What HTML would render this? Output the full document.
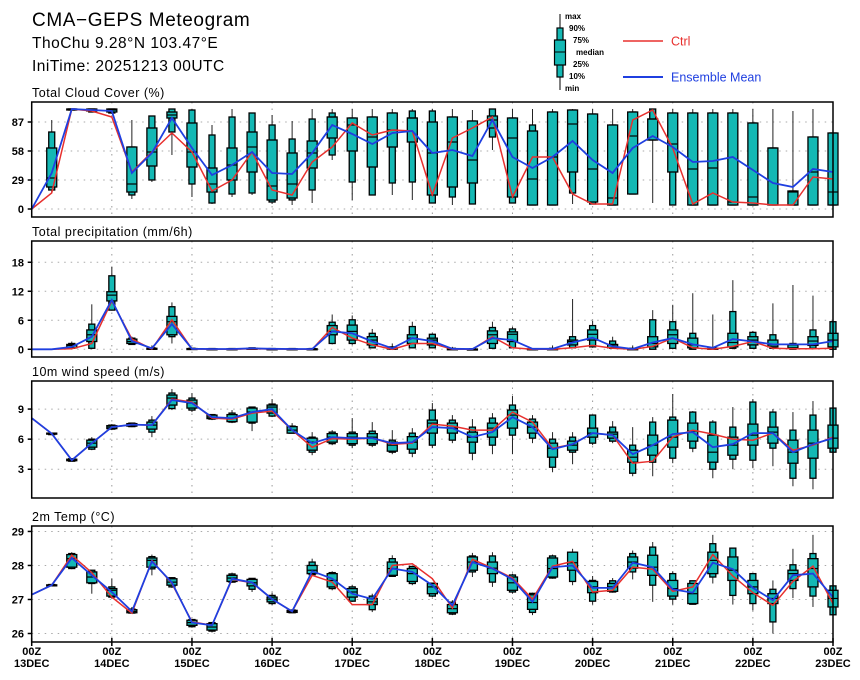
<!DOCTYPE html>
<html><head><meta charset="utf-8">
<style>
body{margin:0;background:#fff;}
svg{display:block;font-family:"Liberation Sans",sans-serif;}
.tl{font-size:11px;font-weight:bold;fill:#000;}
.pt{font-size:12.5px;fill:#000;letter-spacing:0.5px;}
.lg{font-size:8px;font-weight:bold;fill:#000;}
</style></head>
<body>
<svg id="chart" width="860" height="680" viewBox="0 0 860 680" xmlns="http://www.w3.org/2000/svg">
<g>
<text x="32" y="26" font-size="19" letter-spacing="0.6">CMA−GEPS Meteogram</text>
<text x="32" y="48" font-size="15.5" letter-spacing="0.5">ThoChu 9.28°N 103.47°E</text>
<text x="32" y="71" font-size="15.5" letter-spacing="0.5">IniTime: 20251213 00UTC</text>
</g>
<g>
<line x1="560" y1="14" x2="560" y2="90" stroke="#000" stroke-width="1"/>
<rect x="557" y="28" width="6" height="49" fill="#14b8b4" stroke="#000" stroke-width="1.2"/>
<rect x="554.5" y="40" width="11" height="25" fill="#14b8b4" stroke="#000" stroke-width="1.2"/>
<line x1="554.5" y1="52" x2="565.5" y2="52" stroke="#000"/>
<text class="lg" x="565" y="19">max</text>
<text class="lg" x="569" y="31">90%</text>
<text class="lg" x="573" y="43">75%</text>
<text class="lg" x="576" y="55">median</text>
<text class="lg" x="573" y="67">25%</text>
<text class="lg" x="569" y="79">10%</text>
<text class="lg" x="565" y="91">min</text>
<line x1="623" y1="41" x2="663" y2="41" stroke="#e8302e" stroke-width="1.5"/>
<text x="671" y="45.5" font-size="12.5" fill="#e8302e">Ctrl</text>
<line x1="623" y1="77" x2="663" y2="77" stroke="#1f3fe0" stroke-width="2"/>
<text x="671" y="81.5" font-size="12.5" fill="#1f3fe0">Ensemble Mean</text>
</g>
</svg>
<script>
const dayLabels = ["13DEC","14DEC","15DEC","16DEC","17DEC","18DEC","19DEC","20DEC","21DEC","22DEC","23DEC"];
const nSteps = 41;

const cloudTicks = [0,29,58,87];
const cloudMean = [0,36,100,99,98,36,56,91,61,34,44,57,36,35,56,84,75,65,76,78,56,59,53,89,52,41,52,68,49,36,61,73,62,47,48,52,39,26,22,40,37];
const cloudCtrl = [0,16,100,98,92,37,57,76,57,18,29,57,19,14,47,62,86,74,79,78,14,71,81,92,12,52,52,15,5,5,89,99,61,5,16,7,6,4,4,32,30];
const cloudBox = [null,[16,19,22,31,61,77,89],[99,99,99,100,100,100,100],[97,97,98,99,100,100,100],[95,96,97,99,100,100,100],[10,14,17,25,62,62,89],[27,29,43,57,81,93,93],[54,77,91,94,97,100,100],[12,25,42,57,86,99,100],[5,6,17,25,41,74,84],[12,15,29,44,61,92,100],[14,16,37,62,77,96,96],[5,7,9,23,69,84,94],[4,9,11,25,56,70,88],[6,19,41,56,68,90,100],[49,54,71,92,92,96,100],[9,27,58,84,91,91,100],[14,14,42,72,92,92,100],[14,26,62,79,96,96,100],[9,27,67,91,91,98,100],[6,6,14,56,87,98,100],[4,12,22,67,92,92,100],[5,5,26,49,88,88,99],[59,72,81,89,93,100,100],[6,6,12,71,91,91,100],[4,4,4,30,78,84,100],[4,4,4,52,97,97,100],[5,16,37,85,99,99,100],[5,5,7,40,95,95,100],[4,4,4,11,84,84,100],[15,15,15,73,97,97,100],[6,69,69,90,90,100,100],[4,4,37,65,96,96,100],[4,4,4,40,96,96,100],[4,4,4,41,96,96,100],[4,4,4,7,96,96,100],[4,4,4,12,86,86,100],[4,4,4,61,61,61,100],[4,4,4,17,18,18,98],[4,4,4,37,72,72,100],[4,4,4,17,76,76,100]];

const precTicks = [0,6,12,18];
const precMean = [0,0,0.5,2.6,10.2,1.7,0.2,5.2,0.1,0.05,0.05,0.2,0.1,0.05,0.05,3.7,3.3,1.6,0.2,2.3,1.7,0.1,0.05,2.3,1.9,0.1,0.1,1.4,2.4,0.6,0.05,1.4,2.3,1.0,0.3,2.1,1.6,1.0,1.0,1.0,1.7];
const precCtrl = [0,0,0.1,1.2,10.0,2.1,0.05,6.1,0.05,0,0,0.1,0.05,0,0,4.5,2.3,0.9,0,1.2,1.2,0,0,2.6,0.3,0,0,0.3,0.8,0.2,0,0.6,2.3,0.3,0,0.6,1.6,0.2,0.1,0.1,0.2];
const precBox = [null,null,[0.1,0.2,0.3,0.8,1.0,1.2,1.6],[0,0.2,1.6,3.0,4.0,5.2,9.3],[8.0,8.1,10.0,11.2,11.9,15.2,17.1],[0.9,1.0,1.2,1.6,2.1,2.3,2.6],[0,0,0.05,0.1,0.2,0.3,0.8],[1.2,2.6,3.0,5.7,6.8,8.8,9.7],[0,0,0.05,0.1,0.15,0.2,0.3],[0,0,0,0.05,0.1,0.15,0.2],[0,0,0,0.05,0.1,0.15,0.2],[0,0,0.05,0.1,0.2,0.3,0.3],[0,0,0,0.05,0.1,0.15,0.2],[0,0,0,0.05,0.1,0.15,0.2],[0,0,0,0.05,0.1,0.15,0.2],[1.0,1.2,3.0,3.7,4.9,5.6,7.2],[0.9,1.2,1.9,3.7,5.0,6.1,7.0],[0.2,0.3,0.9,1.9,2.6,3.3,4.2],[0,0,0.05,0.1,0.3,0.5,1.2],[0.2,0.3,1.2,2.3,3.0,4.7,5.7],[0.2,0.3,0.9,1.9,2.3,3.1,3.3],[0,0,0,0.05,0.1,0.2,0.5],[0,0,0,0,0.05,0.1,0.1],[0,0.2,1.2,3.0,3.8,4.5,5.7],[0.2,0.3,1.6,3.1,3.6,4.2,4.6],[0,0,0,0.05,0.1,0.1,0.1],[0,0,0,0.05,0.1,0.2,0.8],[0.2,0.3,0.9,1.6,1.9,2.6,10.4],[0.3,0.5,1.9,3.1,4.0,4.9,5.9],[0.2,0.2,0.3,0.9,1.0,1.7,2.6],[0,0,0,0.05,0.1,0.2,0.8],[0,0,0.5,1.2,2.6,6.1,8.1],[0,0.2,1.2,3.0,4.0,5.7,9.2],[0,0,0.3,0.9,2.3,3.3,11.6],[0,0,0,0.1,0.2,0.3,7.2],[0,0.2,0.5,1.4,3.3,7.8,14.3],[0.1,0.2,0.9,1.9,2.6,3.5,3.8],[0,0.2,0.5,0.9,1.9,3.0,9.5],[0,0,0.2,0.3,0.9,1.2,13.3],[0,0.2,0.8,1.7,2.6,4.0,11.1],[0,0,0.5,1.9,3.3,5.7,5.7]];

const windTicks = [3,6,9];
const windMean = [8.1,6.55,3.9,5.6,7.2,7.45,7.4,9.9,9.6,8.2,8.1,8.7,9.0,6.9,5.6,6.2,6.1,6.1,5.6,5.7,7.2,7.1,6.2,6.7,8.2,7.2,5.0,5.5,6.6,6.4,4.5,5.4,6.5,6.7,5.2,5.5,6.6,6.6,4.7,5.5,6.1];
const windCtrl = [8.1,6.55,3.9,5.6,7.2,7.45,7.4,10.0,9.7,8.1,8.0,8.6,8.8,6.9,5.2,6.05,6.0,6.1,5.5,5.6,7.5,7.3,6.9,6.9,8.7,7.7,5.1,5.5,6.6,6.4,3.6,3.8,6.2,6.9,6.5,6.0,5.9,6.6,4.9,5.4,6.2];
const windBox = [null,[6.45,6.45,6.5,6.55,6.6,6.6,6.6],[3.75,3.8,3.85,3.9,4.0,4.05,4.1],[4.9,5.0,5.2,5.6,5.9,6.0,6.2],[6.9,7.0,7.05,7.2,7.35,7.4,7.5],[7.2,7.25,7.3,7.45,7.55,7.6,7.65],[6.2,6.7,7.0,7.4,7.7,7.9,8.3],[8.9,9.05,9.4,10.1,10.4,10.6,11.0],[8.7,8.9,9.1,9.6,9.9,10.1,10.6],[7.9,8.0,8.05,8.2,8.4,8.45,8.5],[7.6,7.7,7.75,8.1,8.45,8.6,8.9],[6.8,7.6,7.7,8.7,9.1,9.2,9.25],[8.2,8.3,8.6,9.2,9.4,9.5,10.0],[6.6,6.6,6.6,6.9,7.25,7.3,7.6],[4.4,4.7,4.9,5.7,6.1,6.2,6.7],[5.4,5.55,5.7,6.2,6.55,6.7,6.9],[5.1,5.4,5.55,6.2,6.55,6.7,8.1],[5.2,5.4,5.55,6.2,6.55,6.8,7.7],[4.5,4.7,4.8,5.4,5.7,5.9,6.9],[4.2,4.6,5.0,5.7,6.25,6.6,7.1],[5.1,5.4,6.6,7.6,7.9,8.9,9.6],[5.6,5.9,6.6,7.1,7.6,7.9,8.4],[3.9,4.6,5.7,6.2,6.7,7.2,8.0],[4.5,5.4,6.2,7.1,7.6,8.1,8.6],[4.5,6.4,7.1,8.4,8.9,9.4,10.3],[5.6,6.1,6.6,7.2,7.7,8.0,8.4],[2.7,3.2,4.2,5.1,5.6,6.0,6.7],[3.5,4.7,4.9,5.4,5.8,6.2,6.7],[5.4,5.6,6.2,6.6,7.1,8.4,8.4],[5.6,5.8,6.1,6.5,6.7,7.2,7.8],[2.3,2.6,3.7,4.2,4.9,5.4,7.2],[2.3,3.7,4.4,5.4,6.4,7.7,8.2],[3.6,4.1,5.2,6.2,7.9,8.2,10.5],[4.7,5.1,5.8,6.8,7.6,8.7,8.8],[2.1,3.0,3.7,4.7,6.4,7.7,7.9],[3.0,4.0,4.4,5.4,6.2,7.2,9.2],[3.1,3.9,5.4,6.4,7.5,9.7,10.0],[3.3,5.1,5.6,6.7,7.2,8.7,9.0],[1.3,2.1,3.6,4.7,5.9,6.9,8.7],[1.0,2.1,4.1,5.6,6.9,8.4,9.8],[3.4,4.7,5.1,6.1,7.4,9.1,9.1]];

const tempTicks = [26,27,28,29];
const tempMean = [27.14,27.42,28.22,27.71,27.22,26.65,28.12,27.50,26.32,26.24,27.61,27.50,27.01,26.65,27.83,27.61,27.17,27.01,27.91,27.81,27.42,26.83,28.10,27.91,27.59,26.93,27.95,28.00,27.34,27.34,28.08,27.95,27.30,27.20,28.08,27.89,27.34,26.98,27.71,27.76,27.07];
const tempCtrl = [27.14,27.42,28.30,27.79,27.07,26.60,28.15,27.47,26.34,26.24,27.59,27.49,27.01,26.65,27.71,27.51,26.85,26.85,28.00,28.05,27.61,26.75,28.18,27.92,27.63,27.01,27.98,28.12,27.22,27.27,27.95,27.89,27.24,27.37,28.32,27.69,27.20,26.83,27.53,27.98,26.88];
const tempBox = [null,[27.40,27.40,27.41,27.42,27.43,27.44,27.44],[27.89,27.91,27.95,28.20,28.32,28.35,28.39],[27.17,27.47,27.49,27.66,27.81,27.86,27.86],[27.03,27.07,27.10,27.27,27.32,27.37,27.61],[26.58,26.60,26.61,26.65,26.70,26.72,26.78],[27.71,27.90,27.95,28.15,28.22,28.26,28.32],[27.34,27.37,27.42,27.51,27.61,27.64,27.66],[26.17,26.20,26.24,26.32,26.39,26.41,26.42],[26.03,26.07,26.10,26.19,26.29,26.32,26.34],[27.49,27.51,27.53,27.63,27.71,27.75,27.79],[27.22,27.30,27.40,27.49,27.59,27.62,27.63],[26.83,26.88,26.93,27.01,27.07,27.12,27.20],[26.60,26.61,26.62,26.65,26.68,26.69,26.70],[27.71,27.73,27.76,27.86,28.00,28.10,28.20],[27.27,27.32,27.37,27.56,27.76,27.79,27.83],[26.93,26.95,27.07,27.22,27.32,27.37,27.42],[26.63,26.70,26.85,26.93,27.03,27.10,27.17],[27.66,27.68,27.71,27.91,28.10,28.20,28.30],[27.42,27.47,27.53,27.76,27.91,27.97,28.00],[27.07,27.10,27.17,27.37,27.47,27.48,27.49],[26.54,26.57,26.61,26.73,26.85,26.92,26.98],[27.66,27.81,27.86,28.10,28.25,28.28,28.37],[27.37,27.51,27.76,27.92,28.10,28.28,28.39],[27.17,27.22,27.27,27.49,27.66,27.72,27.76],[26.54,26.62,26.71,26.91,27.14,27.18,27.20],[27.61,27.63,27.66,27.91,28.22,28.28,28.32],[27.42,27.53,27.86,28.08,28.39,28.39,28.49],[26.85,26.95,27.20,27.37,27.53,27.56,27.69],[27.20,27.22,27.24,27.37,27.47,27.55,27.63],[27.59,27.81,27.92,28.10,28.25,28.35,28.44],[26.93,27.42,27.71,27.95,28.30,28.54,28.69],[26.85,27.01,27.10,27.32,27.56,27.76,27.83],[26.85,26.86,26.88,27.17,27.47,27.55,27.56],[27.47,27.66,27.76,28.15,28.39,28.64,28.90],[26.85,27.12,27.56,27.86,28.25,28.51,28.51],[26.68,26.88,27.17,27.37,27.56,27.76,27.76],[26.00,26.34,26.88,27.03,27.17,27.30,27.56],[27.04,27.32,27.56,27.76,27.86,28.02,28.49],[26.78,27.10,27.37,27.91,28.20,28.35,28.90],[26.49,26.55,26.78,27.03,27.27,27.40,27.42]];

const NS = "http://www.w3.org/2000/svg";
const svg = document.getElementById("chart");
const X0 = 31.7, X1 = 833;
function xScale(i){ return X0 + (X1 - X0) * i / (nSteps - 1); }
function mk(tag, attrs, parent){
  const e = document.createElementNS(NS, tag);
  for (const k in attrs) e.setAttribute(k, attrs[k]);
  (parent || svg).appendChild(e);
  return e;
}

function drawPanel(key, title, top, bottom, dmin, dmax, ticks, mean, ctrl, boxes, showX){
  const g = mk("g", {});
  
  
  const y = v => bottom - (v - dmin) / (dmax - dmin) * (bottom - top);
  const t = mk("text", {x: 32, y: top - 5, class: "pt"}, g);
  t.textContent = title;
  
  
  for (let d = 1; d < dayLabels.length - 1; d++){
    const xx = xScale(d * 4);
    mk("line", {x1: xx, x2: xx, y1: top, y2: bottom, stroke: "#999", "stroke-width": 1, "stroke-dasharray": "1.5,5"}, g);
  }
  ticks.forEach(v => {
    const yy = y(v);
    mk("line", {x1: X0, x2: X1, y1: yy, y2: yy, stroke: "#aaa", "stroke-width": 1, "stroke-dasharray": "1.5,5"}, g);
    mk("line", {x1: X0 - 4, x2: X0, y1: yy, y2: yy, stroke: "#000", "stroke-width": 1.5}, g);
    const lab = mk("text", {x: 24, y: yy + 4, class: "tl", "text-anchor": "end"}, g);
    lab.textContent = v;
    
    
  });
  boxes.forEach((b, i) => {
    if (!b) return;
    const xx = xScale(i);
    const bg = mk("g", {}, g);
    
    
    mk("line", {x1: xx, x2: xx, y1: y(b[0]), y2: y(b[6]), stroke: "#222", "stroke-width": 1}, bg);
    mk("rect", {x: xx - 3, y: y(b[5]), width: 6, height: Math.max(1, y(b[1]) - y(b[5])), fill: "#14b8b4", stroke: "#000", "stroke-width": 1.3}, bg);
    mk("rect", {x: xx - 5, y: y(b[4]), width: 10, height: Math.max(1, y(b[2]) - y(b[4])), fill: "#14b8b4", stroke: "#000", "stroke-width": 1.3}, bg);
    mk("line", {x1: xx - 5, x2: xx + 5, y1: y(b[3]), y2: y(b[3]), stroke: "#000", "stroke-width": 1.2}, bg);
  });
  const pts = arr => arr.map((v, i) => xScale(i).toFixed(1) + "," + y(v).toFixed(1)).join(" ");
  const lc = mk("polyline", {points: pts(ctrl), fill: "none", stroke: "#e8302e", "stroke-width": 1.5}, g);
  
  
  const lm = mk("polyline", {points: pts(mean), fill: "none", stroke: "#1f3fe0", "stroke-width": 1.8}, g);
  
  
  mk("rect", {x: X0, y: top, width: X1 - X0, height: bottom - top, fill: "none", stroke: "#000", "stroke-width": 1.5}, g);
  if (showX){
    dayLabels.forEach((lbl, d) => {
      const xx = xScale(d * 4);
      mk("line", {x1: xx, x2: xx, y1: bottom - 4, y2: bottom + 4, stroke: "#000", "stroke-width": 1.5}, g);
      const a = mk("text", {x: xx, y: 655, class: "tl", "text-anchor": "middle"}, g);
      a.textContent = "00Z";
      
      
      const b2 = mk("text", {x: xx, y: 667, class: "tl", "text-anchor": "middle"}, g);
      b2.textContent = lbl;
      
      
    });
  }
}

drawPanel("cloud", "Total Cloud Cover (%)", 102, 217, -8, 107, cloudTicks, cloudMean, cloudCtrl, cloudBox, false);
drawPanel("precip", "Total precipitation (mm/6h)", 241, 357, -1.6, 22.4, precTicks, precMean, precCtrl, precBox, false);
drawPanel("wind", "10m wind speed (m/s)", 381, 498, 0.13, 11.8, windTicks, windMean, windCtrl, windBox, false);
drawPanel("temp", "2m Temp (°C)", 526, 642, 25.75, 29.16, tempTicks, tempMean, tempCtrl, tempBox, true);
</script>
</body></html>
